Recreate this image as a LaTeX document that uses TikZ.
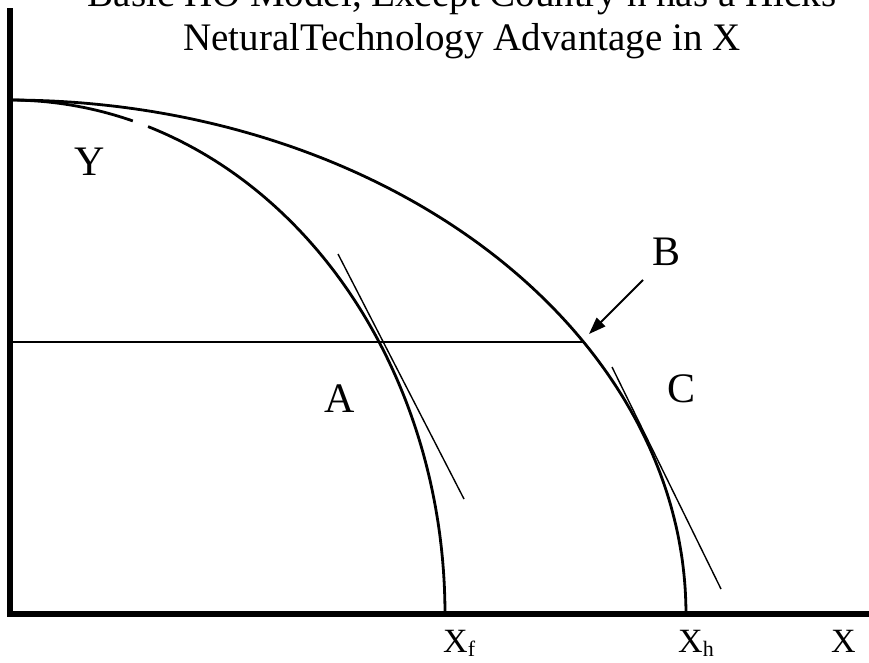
\documentclass[tikz,border=0pt]{standalone}
\usepackage{fontspec}
\setmainfont{Liberation Serif}
\usetikzlibrary{arrows.meta}
\begin{document}
\begin{tikzpicture}[x=1pt,y=-1pt,
  axisline/.style={line width=6pt,line join=miter},
  ppf/.style={line width=2.8pt},
  thinline/.style={line width=1.4pt},
  lbl/.style={anchor=base,inner sep=0pt,font=\fontsize{42}{48}\selectfont},
  axlbl/.style={anchor=base west,inner sep=0pt,font=\fontsize{34}{40}\selectfont},
  ttl/.style={anchor=base,inner sep=0pt,font=\fontsize{39}{45}\selectfont}]
\useasboundingbox (0,0) rectangle (869,662);
\clip (0,0) rectangle (869,662);
% title
\node[ttl] (t1) at (462,6) {Basic HO Model, Except Country h has a Hicks};
\node[ttl] (t2) at (462,50) {NeturalTechnology Advantage in X};
% axes
\coordinate (top) at (10,8);
\coordinate (O) at (10,614);
\coordinate (right) at (869,614);
\draw[axisline] (top) -- (O) -- (right);
% production possibility frontiers
\draw[ppf] plot[domain=0:90,samples=120] ({10+676*cos(\x)},{614-514*sin(\x)});
\draw[ppf] plot[domain=0:71.5,samples=120] ({10+435*cos(\x)},{614-514*sin(\x)});
\draw[ppf] plot[domain=73.6:90,samples=40] ({10+435*cos(\x)},{614-514*sin(\x)});
% horizontal line
\coordinate (hl) at (10,342);
\coordinate (hr) at (583,342);
\draw[thinline] (hl) -- (hr);
% tangents
\coordinate (ta1) at (338,254);
\coordinate (ta2) at (464,499);
\draw[thinline] (ta1) -- (ta2);
\coordinate (tc1) at (612,367);
\coordinate (tc2) at (721,589);
\draw[thinline] (tc1) -- (tc2);
% arrow to B
\coordinate (bs) at (643,280);
\coordinate (bt) at (589,334);
\draw[line width=1.8pt,-{Triangle[length=17pt,width=12pt]}] (bs) -- (bt);
% labels
\node[lbl] (Y) at (90,175) {Y};
\node[lbl] (A) at (340,412) {A};
\node[lbl] (B) at (666,265) {B};
\node[lbl] (C) at (681,402) {C};
\node[axlbl] (Xf) at (443,652) {X\raisebox{-4pt}{\fontsize{22}{24}\selectfont f}};
\node[axlbl] (Xh) at (678,652) {X\raisebox{-4pt}{\fontsize{22}{24}\selectfont h}};
\node[axlbl] (X) at (831,652) {X};
\end{tikzpicture}
\end{document}
